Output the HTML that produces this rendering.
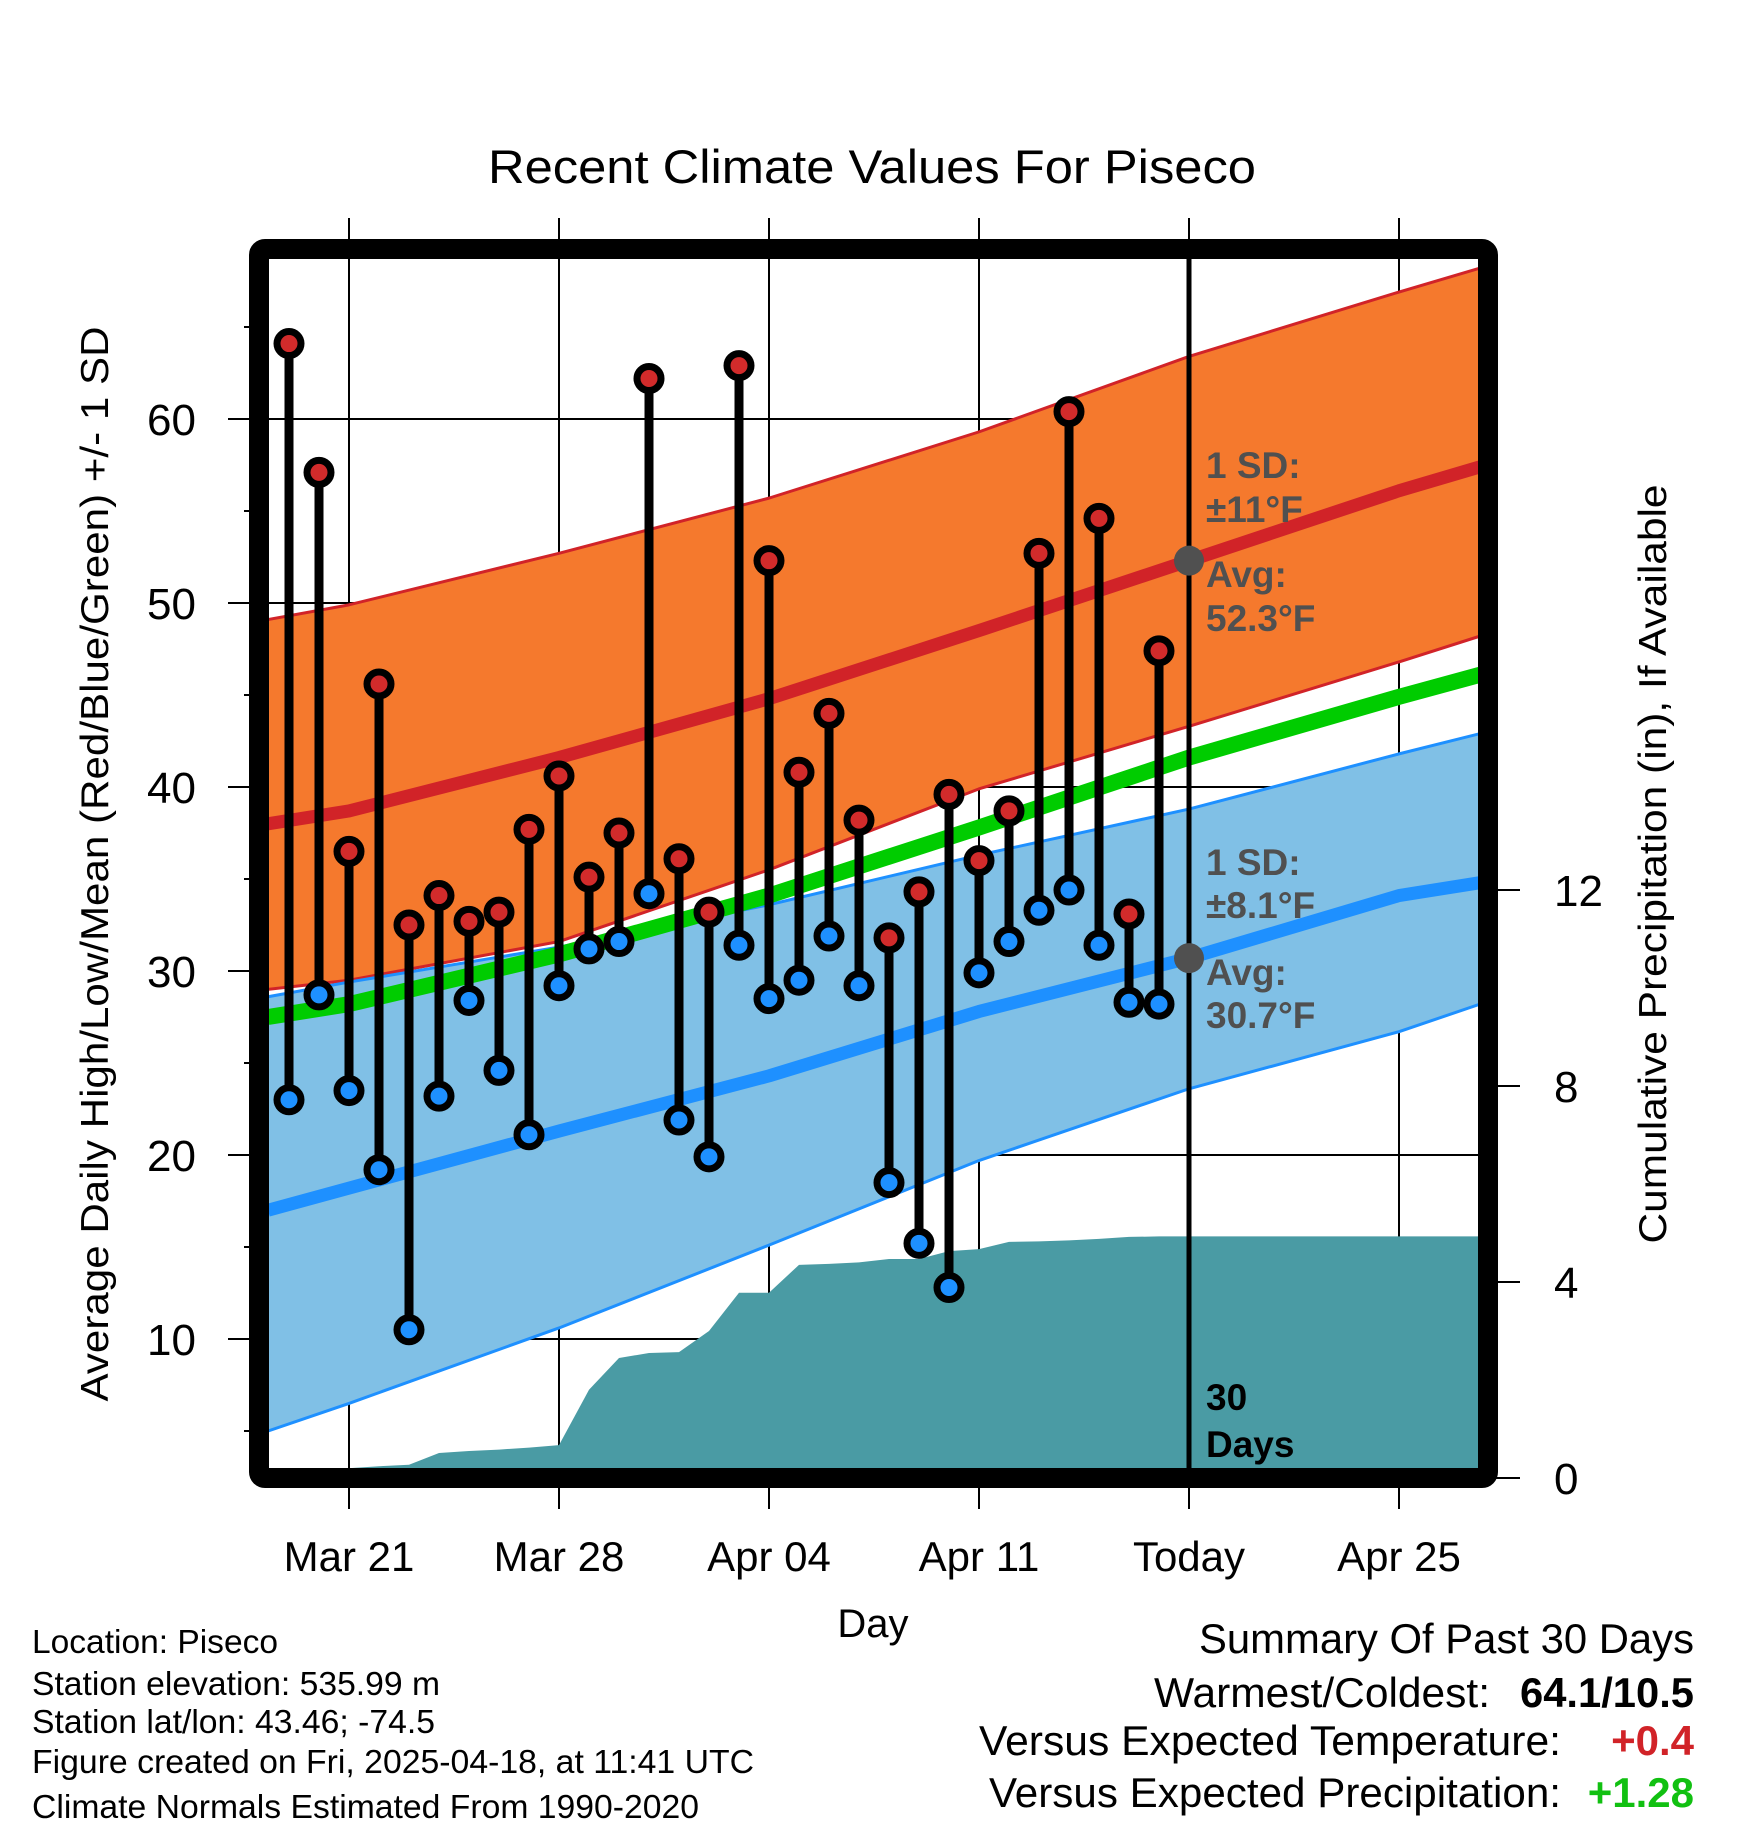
<!DOCTYPE html>
<html><head><meta charset="utf-8"><title>Recent Climate Values For Piseco</title>
<style>
html,body{margin:0;padding:0;background:#fff;}
svg{display:block;font-family:"Liberation Sans",Arial,sans-serif;}
</style></head>
<body>
<svg id="chart" width="1748" height="1828" viewBox="0 0 1748 1828" xmlns="http://www.w3.org/2000/svg">
<defs><clipPath id="plotclip"><rect x="269" y="260" width="1209" height="1208"/></clipPath></defs>
<text x="872" y="183" font-size="47" text-anchor="middle" textLength="768" lengthAdjust="spacingAndGlyphs">Recent Climate Values For Piseco</text>
<g id="grid"></g>
<g id="plot" clip-path="url(#plotclip)"></g>
<g id="marks"></g>
<rect x="259" y="249" width="1229" height="1229" rx="6" fill="none" stroke="#000" stroke-width="20"/>
<g id="axes"></g>
<text transform="translate(108,864) rotate(-90)" font-size="39" text-anchor="middle" textLength="1075" lengthAdjust="spacingAndGlyphs">Average Daily High/Low/Mean (Red/Blue/Green) +/- 1 SD</text>
<text transform="translate(1666,864) rotate(-90)" font-size="39" text-anchor="middle" textLength="759" lengthAdjust="spacingAndGlyphs">Cumulative Precipitation (in), If Available</text>
<text x="873" y="1637" font-size="40" text-anchor="middle">Day</text>
<g font-size="33">
<text x="32" y="1653" textLength="246" lengthAdjust="spacingAndGlyphs">Location: Piseco</text>
<text x="32" y="1695" textLength="408" lengthAdjust="spacingAndGlyphs">Station elevation: 535.99 m</text>
<text x="32" y="1733" textLength="403" lengthAdjust="spacingAndGlyphs">Station lat/lon: 43.46; -74.5</text>
<text x="32" y="1773" textLength="722" lengthAdjust="spacingAndGlyphs">Figure created on Fri, 2025-04-18, at 11:41 UTC</text>
<text x="32" y="1818" textLength="667" lengthAdjust="spacingAndGlyphs">Climate Normals Estimated From 1990-2020</text>
</g>
<g font-size="42">
<text x="1694" y="1653" text-anchor="end" textLength="495" lengthAdjust="spacingAndGlyphs">Summary Of Past 30 Days</text>
<text x="1490" y="1707" text-anchor="end" textLength="336" lengthAdjust="spacingAndGlyphs">Warmest/Coldest:</text>
<text x="1694" y="1707" text-anchor="end" font-weight="bold" textLength="174" lengthAdjust="spacingAndGlyphs">64.1/10.5</text>
<text x="1561" y="1755" text-anchor="end" textLength="582" lengthAdjust="spacingAndGlyphs">Versus Expected Temperature:</text>
<text x="1694" y="1755" text-anchor="end" font-weight="bold" fill="#D12328">+0.4</text>
<text x="1561" y="1807" text-anchor="end" textLength="572" lengthAdjust="spacingAndGlyphs">Versus Expected Precipitation:</text>
<text x="1694" y="1807" text-anchor="end" font-weight="bold" fill="#11C011">+1.28</text>
</g>
</svg>
<script>
// day offsets relative to Mar 21
const obsDays = [-2,-1,0,1,2,3,4,5,6,7,8,9,10,11,12,13,14,15,16,17,18,19,20,21,22,23,24,25,26,27];
const highs = [64.1,57.1,36.5,45.6,32.5,34.1,32.7,33.2,37.7,40.6,35.1,37.5,62.2,36.1,33.2,62.9,52.3,40.8,44.0,38.2,31.8,34.3,39.6,36.0,38.7,52.7,60.4,54.6,33.1,47.4];
const lows = [23.0,28.7,23.5,19.2,10.5,23.2,28.4,24.6,21.1,29.2,31.2,31.6,34.2,21.9,19.9,31.4,28.5,29.5,31.9,29.2,18.5,15.2,12.8,29.9,31.6,33.3,34.4,31.4,28.3,28.2];
const normDays = [-2.7,0,7,14,21,28,35,37.7];
const highUpper = [49.1,49.9,52.7,55.7,59.3,63.4,66.9,68.2];
const highMean = [38.0,38.7,41.6,44.8,48.5,52.3,56.1,57.4];
const highLower = [29.0,29.5,31.6,35.5,39.9,43.3,46.8,48.2];
const meanNormal = [27.5,28.2,30.9,34.1,37.8,41.6,44.9,46.1];
const lowUpper = [28.6,29.4,31.3,33.6,36.3,38.8,41.8,42.9];
const lowMean = [17.0,18.2,21.3,24.3,27.8,30.7,34.1,34.8];
const lowLower = [5.0,6.5,10.6,15.1,19.7,23.6,26.7,28.2];
const precipDays = [-2,-1,0,1,2,3,4,5,6,7,8,9,10,11,12,13,14,15,16,17,18,19,20,21,22,23,24,25,26,27,37.7];
const precipCum = [0,0,0.2,0.24,0.27,0.51,0.55,0.58,0.62,0.67,1.8,2.45,2.55,2.57,3.0,3.78,3.78,4.35,4.37,4.4,4.47,4.47,4.63,4.67,4.82,4.83,4.85,4.88,4.92,4.93,4.93];
const xTickDays = [0,7,14,21,28,35];
const xTickLabels = ["Mar 21","Mar 28","Apr 04","Apr 11","Today","Apr 25"];
const yTicks = [10,20,30,40,50,60];
const yMinor = [5,15,25,35,45,55,65];
const pTicks = [0,4,8,12];

const NS = "http://www.w3.org/2000/svg";
const x = d => 349 + 30 * d;
const y = v => 419 + (60 - v) * 18.4;
const yp = p => 1478 - p * 49;
function mk(tag, attrs, parent) {
  const e = document.createElementNS(NS, tag);
  for (const k in attrs) e.setAttribute(k, attrs[k]);
  parent.appendChild(e);
  return e;
}
const grid = document.getElementById('grid');
const plot = document.getElementById('plot');
const marks = document.getElementById('marks');
const axes = document.getElementById('axes');

function linePts(days, vals) { return days.map((d, i) => x(d) + "," + y(vals[i])).join(" "); }
function band(up, lo, fill, name) {
  const pts = normDays.map((d, i) => x(d) + "," + y(up[i]))
    .concat(normDays.slice().reverse().map((d, i) => x(d) + "," + y(lo[lo.length - 1 - i])));
  const p = mk('polygon', {points: pts.join(" "), fill: fill}, plot);
  
  
}
function line(vals, color, w, name) {
  const l = mk('polyline', {points: linePts(normDays, vals), fill: 'none', stroke: color, 'stroke-width': w, 'stroke-linejoin': 'round'}, plot);
  
  
}
band(lowUpper, lowLower, '#80C0E6', 'low-sd-band');
band(highUpper, highLower, '#F5792D', 'high-sd-band');
// precip
const ppts = precipDays.map((d, i) => x(d) + "," + yp(precipCum[i]));
ppts.push(x(precipDays[precipDays.length - 1]) + "," + yp(0));
ppts.push(x(precipDays[0]) + "," + yp(0));
const pp = mk('polygon', {points: ppts.join(" "), fill: '#4A9BA4'}, plot);


line(highUpper, '#D12328', 3, 'high-upper-sd-line');
line(highLower, '#D12328', 3, 'high-lower-sd-line');
line(lowUpper, '#1E90FF', 3, 'low-upper-sd-line');
line(lowLower, '#1E90FF', 3, 'low-lower-sd-line');
line(highMean, '#D12328', 13, 'normal-high-line');
line(lowMean, '#1E90FF', 13, 'normal-low-line');
line(meanNormal, '#00CC00', 16, 'normal-mean-line');

// grid
yTicks.forEach(v => {
  const l = mk('line', {x1: 228, x2: 1478, y1: y(v), y2: y(v), stroke: '#000', 'stroke-width': 2}, grid);
  
  
  const t = mk('text', {x: 196, y: y(v) + 16, 'font-size': 44, 'text-anchor': 'end'}, axes);
  t.textContent = v;
  
  
});
yMinor.forEach(v => {
  const l = mk('line', {x1: 244, x2: 252, y1: y(v), y2: y(v), stroke: '#000', 'stroke-width': 2}, axes);
  
  
});
xTickDays.forEach((d, i) => {
  const l = mk('line', {x1: x(d), x2: x(d), y1: 218, y2: 1509, stroke: '#000', 'stroke-width': 2}, grid);
  
  
  const t = mk('text', {x: x(d), y: 1571, 'font-size': 42, 'text-anchor': 'middle'}, axes);
  t.textContent = xTickLabels[i];
  
  
});
pTicks.forEach(p => {
  const l = mk('line', {x1: 1488, x2: 1520, y1: yp(p), y2: yp(p), stroke: '#000', 'stroke-width': 2}, axes);
  
  
  const t = mk('text', {x: 1554, y: yp(p) + 16, 'font-size': 44}, axes);
  t.textContent = p;
  
  
});

// observations
obsDays.forEach((d, i) => {
  const s = mk('line', {x1: x(d), x2: x(d), y1: y(highs[i]), y2: y(lows[i]), stroke: '#000', 'stroke-width': 9}, marks);
  
  
});
obsDays.forEach((d, i) => {
  const h = mk('circle', {cx: x(d), cy: y(highs[i]), r: 12, fill: '#D22B2B', stroke: '#000', 'stroke-width': 7}, marks);
  
  
  const lo = mk('circle', {cx: x(d), cy: y(lows[i]), r: 12, fill: '#1E90FF', stroke: '#000', 'stroke-width': 7}, marks);
  
  
});
// today line
const tl = mk('line', {x1: x(28), x2: x(28), y1: 255, y2: 1472, stroke: '#000', 'stroke-width': 5}, marks);


const d1 = mk('circle', {cx: x(28), cy: y(highMean[5]), r: 15, fill: '#505050'}, marks);


const d2 = mk('circle', {cx: x(28), cy: y(lowMean[5]), r: 15, fill: '#505050'}, marks);


function ann(txt, yy, name, col) {
  const t = mk('text', {x: 1206, y: yy, 'font-size': 37, 'font-weight': 'bold', fill: col || '#505050'}, marks);
  t.textContent = txt;
  
  
}
ann('1 SD:', 478, 'high-sd-label');
ann('±11°F', 522, 'high-sd-value');
ann('Avg:', 587, 'high-avg-label');
ann('52.3°F', 631, 'high-avg-value');
ann('1 SD:', 875, 'low-sd-label');
ann('±8.1°F', 918, 'low-sd-value');
ann('Avg:', 985, 'low-avg-label');
ann('30.7°F', 1028, 'low-avg-value');
ann('30', 1410, 'days-count-label', '#000');
ann('Days', 1457, 'days-unit-label', '#000');
</script>
</body></html>
